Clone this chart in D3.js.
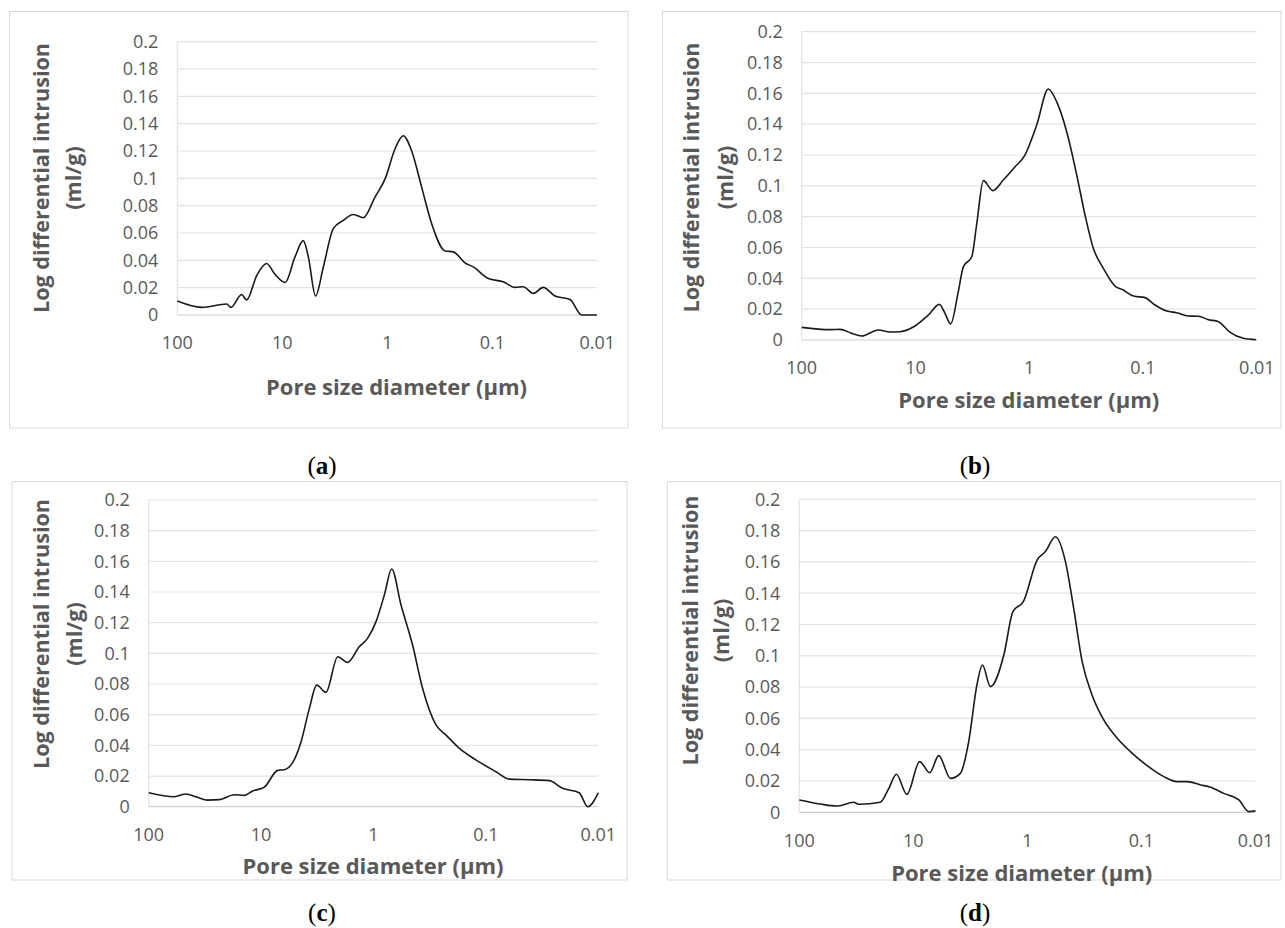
<!DOCTYPE html>
<html>
<head>
<meta charset="utf-8">
<script src="https://cdn.jsdelivr.net/npm/d3@7"></script>
<style>
  body { margin: 0; background: #fff; }
  svg { display: block; }
</style>
</head>
<body>
<div id="chart"></div>
<script>
// axis ticks
var xTicks = [100, 10, 1, 0.1, 0.01];
var yTicks = [0, 0.02, 0.04, 0.06, 0.08, 0.1, 0.12, 0.14, 0.16, 0.18, 0.2];

// (a) pore diameter (µm) and log differential intrusion (ml/g)
var diamA = [100, 58.6, 33.9, 30.8, 24.4, 21.9, 17.5, 14.1, 11.7, 9.4, 7.57, 6.31, 5.65, 4.82, 4.07, 3.27, 2.62, 2.11, 1.69, 1.31,
  1.05, 0.845, 0.705, 0.586, 0.471, 0.378, 0.282, 0.235, 0.182, 0.152, 0.109, 0.0786, 0.0608, 0.0507, 0.0407, 0.0327, 0.0253, 0.0182, 0.0141, 0.0101];
var valA = [0.0102, 0.0056, 0.008, 0.0056, 0.015, 0.011, 0.029, 0.0377, 0.0296, 0.0238, 0.0425, 0.0544, 0.0425, 0.0139, 0.035, 0.0632, 0.0693, 0.0736, 0.0712, 0.0863,
  0.0996, 0.1215, 0.1312, 0.12, 0.0936, 0.0668, 0.0469, 0.0462, 0.0382, 0.0352, 0.0267, 0.0243, 0.0202, 0.0207, 0.0158, 0.0202, 0.0139, 0.0114, 0, 0];

// (b)
var diamB = [100, 56.3, 46.0, 36.3, 29.7, 21.2, 16.7, 13.7, 10.1, 7.7, 6.16, 5.5, 4.9, 4.2, 3.79, 3.2, 2.9, 2.53, 2.09, 1.69, 1.33, 1.09,
  0.859, 0.679, 0.574, 0.468, 0.382, 0.323, 0.273, 0.223, 0.176, 0.149, 0.121, 0.0959, 0.0783, 0.0618, 0.0505, 0.0399, 0.0326, 0.0266, 0.0217, 0.0171, 0.0131, 0.0101];
var valB = [0.0082, 0.0067, 0.0069, 0.0043, 0.0026, 0.0065, 0.0052, 0.0054, 0.0091, 0.0162, 0.0231, 0.0173, 0.0104, 0.0314, 0.0476, 0.054, 0.0746, 0.1034, 0.0969, 0.1038, 0.1124, 0.12,
  0.1395, 0.1628, 0.1546, 0.1351, 0.107, 0.0811, 0.0595, 0.0465, 0.035, 0.0324, 0.0285, 0.0275, 0.0227, 0.0188, 0.0177, 0.0156, 0.0154, 0.0132, 0.0119, 0.005, 0.0011, 0.0002];

// (c)
var diamC = [100, 59.1, 46.6, 37.9, 29.9, 23.5, 17.3, 14.1, 11.9, 9.35, 7.11, 6.21, 5.24, 4.41, 3.72, 3.2, 2.65, 2.08, 1.7, 1.34, 1.13, 0.95,
  0.801, 0.689, 0.569, 0.449, 0.366, 0.278, 0.226, 0.172, 0.122, 0.0813, 0.0619, 0.0411, 0.0273, 0.0208, 0.0148, 0.0124, 0.01];
var valC = [0.0091, 0.0065, 0.0083, 0.0065, 0.0043, 0.0046, 0.0078, 0.0074, 0.0102, 0.0128, 0.0237, 0.0241, 0.0287, 0.0424, 0.0641, 0.0793, 0.0746, 0.0978, 0.0941, 0.1043, 0.1098, 0.1207,
  0.138, 0.155, 0.1315, 0.1054, 0.0772, 0.0533, 0.0467, 0.038, 0.0304, 0.0228, 0.018, 0.0176, 0.017, 0.012, 0.0091, 0, 0.0091];

// (d)
var diamD = [100, 65.4, 46.8, 33.4, 30.2, 19.5, 16.4, 14.1, 11.4, 8.8, 7.19, 5.99, 4.73, 3.87, 3.27, 2.77, 2.48, 2.11, 1.61, 1.34, 1.08,
  0.822, 0.695, 0.568, 0.464, 0.393, 0.331, 0.271, 0.214, 0.163, 0.125, 0.0891, 0.0637, 0.0486, 0.0397, 0.0303, 0.0248, 0.019, 0.014, 0.0114, 0.01];
var valD = [0.0079, 0.0053, 0.004, 0.0064, 0.0051, 0.0064, 0.0153, 0.0243, 0.0115, 0.0324, 0.0253, 0.0362, 0.0217, 0.0249, 0.0452, 0.0814, 0.0941, 0.0803, 0.1005, 0.1282, 0.135,
  0.1612, 0.1666, 0.1761, 0.1602, 0.1304, 0.0963, 0.075, 0.059, 0.0473, 0.0388, 0.0298, 0.0228, 0.0196, 0.0196, 0.0175, 0.016, 0.0121, 0.0079, 0.0004, 0.0009];

var labels = ["a", "b", "c", "d"];
var series = [[diamA, valA], [diamB, valB], [diamC, valC], [diamD, valD]];

// panel layout (box, plot area, text positions)
var panels = [
  { box: [9.5, 11.5, 628, 428], plot: [177.3, 41.7, 597.3, 315], yt: [41, 73, 178], xt: [396.5, 387], cap: [322, 465] },
  { box: [662.5, 11.5, 1281, 428], plot: [801.7, 31.7, 1256.7, 340], yt: [691.7, 725, 177.5], xt: [1028.8, 400], cap: [975, 465] },
  { box: [12, 481.5, 627, 880], plot: [148.7, 500, 598.3, 806.7], yt: [41.3, 74.7, 634], xt: [373, 866.7], cap: [322, 912] },
  { box: [667.3, 481.5, 1281, 880], plot: [799.3, 499.3, 1255.5, 812.3], yt: [690, 721.7, 630.5], xt: [1021.7, 873.3], cap: [975, 912] }
];

var W = 1285, H = 928;
var font = "'Open Sans', sans-serif";
var grey = "#595959";

var svg = d3.select("#chart").append("svg")
  .attr("width", W)
  .attr("height", H);

panels.forEach(function (p, i) {
  var g = svg.append("g");
  var x = d3.scaleLog().domain([100, 0.01]).range([p.plot[0], p.plot[2]]);
  var y = d3.scaleLinear().domain([0, 0.2]).range([p.plot[3], p.plot[1]]);

  // outer frame
  g.append("rect")
    .attr("x", p.box[0]).attr("y", p.box[1])
    .attr("width", p.box[2] - p.box[0]).attr("height", p.box[3] - p.box[1])
    .attr("fill", "#fff").attr("stroke", "#d9d9d9").attr("stroke-width", 1);

  // horizontal gridlines
  g.append("g").selectAll("line")
    .data(yTicks)
    .enter().append("line")
    .attr("x1", x(100)).attr("x2", x(0.01))
    .attr("y1", function (d) { return y(d); })
    .attr("y2", function (d) { return y(d); })
    .attr("stroke", function (d) { return d === 0 ? "#d0d0d0" : "#e3e3e3"; })
    .attr("stroke-width", 1.2);

  // left axis line
  g.append("line")
    .attr("x1", x(100)).attr("x2", x(100))
    .attr("y1", y(0)).attr("y2", y(0.2))
    .attr("stroke", "#e3e3e3").attr("stroke-width", 1.2);

  // y tick labels
  g.append("g").selectAll("text")
    .data(yTicks)
    .enter().append("text")
    .attr("x", x(100) - 19)
    .attr("y", function (d) { return y(d); })
    .attr("dy", "0.35em")
    .attr("text-anchor", "end")
    .style("font-family", font).style("font-size", "18px").attr("fill", grey)
    .text(function (d) { return String(+d.toFixed(2)); });

  // x tick labels
  g.append("g").selectAll("text")
    .data(xTicks)
    .enter().append("text")
    .attr("x", function (d) { return x(d); })
    .attr("y", y(0) + 28)
    .attr("dy", "0.35em")
    .attr("text-anchor", "middle")
    .style("font-family", font).style("font-size", "18px").attr("fill", grey)
    .text(function (d) { return String(d); });

  // data line
  var pts = d3.zip(series[i][0], series[i][1]);
  var line = d3.line()
    .x(function (d) { return x(d[0]); })
    .y(function (d) { return y(d[1]); })
    .curve(d3.curveMonotoneX);
  g.append("path")
    .datum(pts)
    .attr("d", line)
    .attr("fill", "none")
    .attr("stroke", "#1a1a1a")
    .attr("stroke-width", 1.6);

  // y title (two lines)
  [["Log differential intrusion", p.yt[0]], ["(ml/g)", p.yt[1]]].forEach(function (t) {
    g.append("text")
      .attr("transform", "translate(" + t[1] + "," + p.yt[2] + ") rotate(-90)")
      .attr("dy", "0.35em")
      .attr("text-anchor", "middle")
      .style("font-family", font).style("font-size", "21.6px").style("font-weight", "bold")
      .attr("fill", grey)
      .text(t[0]);
  });

  // x title
  g.append("text")
    .attr("x", p.xt[0]).attr("y", p.xt[1])
    .attr("dy", "0.35em")
    .attr("text-anchor", "middle")
    .style("font-family", font).style("font-size", "22px").style("font-weight", "bold")
    .attr("fill", grey)
    .text("Pore size diameter (µm)");

  // caption
  var cap = svg.append("text")
    .attr("x", p.cap[0]).attr("y", p.cap[1])
    .attr("dy", "0.35em")
    .attr("text-anchor", "middle")
    .style("font-family", "'Liberation Serif', 'Times New Roman', serif")
    .style("font-size", "25px")
    .attr("fill", "#000");
  cap.append("tspan").text("(");
  cap.append("tspan").style("font-weight", "bold").text(labels[i]);
  cap.append("tspan").text(")");
});
</script>
</body>
</html>
